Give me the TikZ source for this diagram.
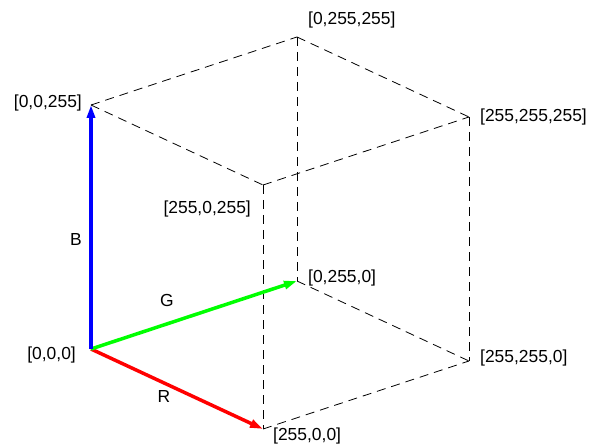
\documentclass[tikz,border=0pt]{standalone}
\usepackage{fontspec}
\setmainfont{Liberation Sans}
\usetikzlibrary{arrows.meta}
\begin{document}
\begin{tikzpicture}[x=1bp,y=-1bp,
  edge/.style={draw=black,line width=0.8bp,dash pattern=on 9bp off 6bp},
  axis/.style={line width=3.5bp,-{Triangle[length=13bp,width=8bp]}},
  lbl/.style={font=\fontsize{17.5}{20}\selectfont,inner sep=0pt}]
\useasboundingbox (0,0) rectangle (590,444);
\coordinate (O) at (91,349);
\coordinate (R) at (263,429);
\coordinate (G) at (297,281);
\coordinate (B) at (91,105);
\coordinate (RB) at (263,185);
\coordinate (GB) at (297,37);
\coordinate (RG) at (469,361);
\coordinate (RGB) at (469,117);
\draw[edge] (B) -- (GB);
\draw[edge] (B) -- (RB);
\draw[edge] (RB) -- (R);
\draw[edge] (RB) -- (RGB);
\draw[edge] (GB) -- (RGB);
\draw[edge] (GB) -- (G);
\draw[edge] (RGB) -- (RG);
\draw[edge] (G) -- (RG);
\draw[edge] (R) -- (RG);
\draw[axis,draw=red,fill=red] (O) -- (R);
\draw[axis,draw=green,fill=green] (O) -- (G);
\draw[axis,draw=blue,fill=blue] (O) -- (B);
\node[lbl,anchor=west] (lGB) at (308,20) {[0,255,255]};
\node[lbl,anchor=east] (lB) at (82,103) {[0,0,255]};
\node[lbl,anchor=west] (lRGB) at (480,117) {[255,255,255]};
\node[lbl,anchor=east] (lRB) at (251,209) {[255,0,255]};
\node[lbl,anchor=west] (lG) at (308,278) {[0,255,0]};
\node[lbl,anchor=west] (lRG) at (480,358) {[255,255,0]};
\node[lbl,anchor=east] (lO) at (76,355) {[0,0,0]};
\node[lbl,anchor=west] (lR) at (273,436) {[255,0,0]};
\node[lbl] (tB) at (76,240) {B};
\node[lbl] (tG) at (167,300) {G};
\node[lbl] (tR) at (164,397) {R};
\end{tikzpicture}
\end{document}
